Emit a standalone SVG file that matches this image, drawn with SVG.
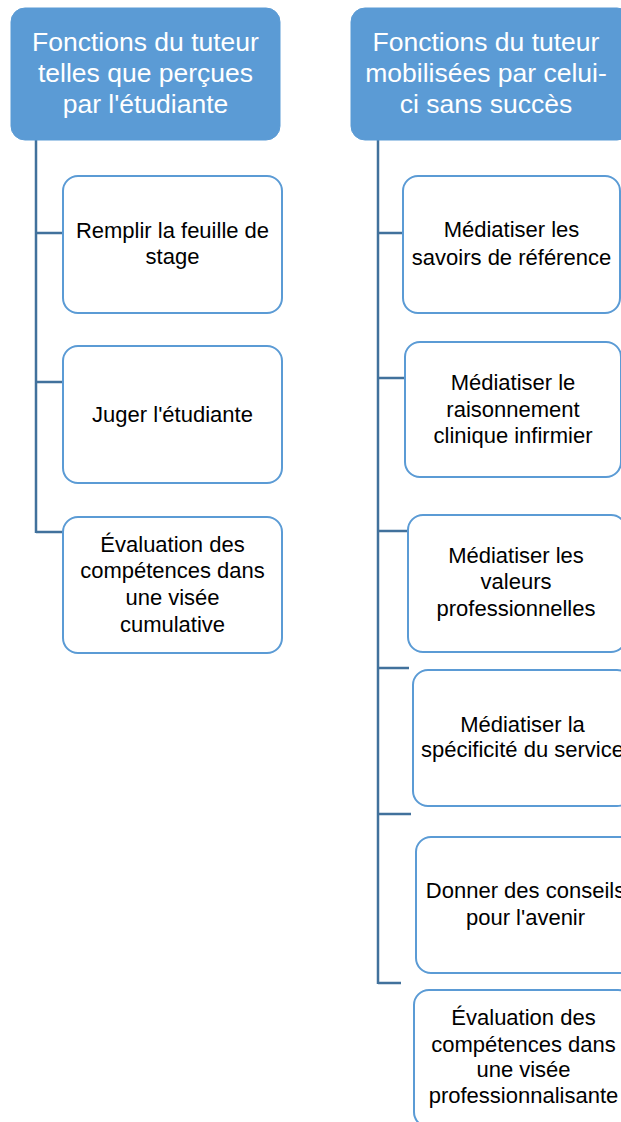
<svg xmlns="http://www.w3.org/2000/svg" width="621" height="1122" viewBox="0 0 621 1122">
<style>
.hdr{fill:#5b9bd5;stroke:#5b9bd5;stroke-width:1}
.hdrt{fill:#ffffff;font-family:"Liberation Sans",Arial,sans-serif;font-size:26.5px;text-anchor:middle}
.box{fill:#ffffff;stroke:#5b9bd5;stroke-width:2}
.bt{fill:#000000;font-family:"Liberation Sans",Arial,sans-serif;font-size:22px;text-anchor:middle}
.con{fill:none;stroke:#41719c;stroke-width:2.5}
</style>
<rect width="621" height="1122" fill="#ffffff"/>
<g id="connectors">
<path class="con" d="M36,140 V533 M36,233 H63 M36,382 H63 M36,532 H63"/>
<path class="con" d="M378,140 V984 M378,233 H403 M378,378 H405 M378,531 H407 M378,668 H409 M378,814 H411 M378,983 H401"/>
</g>
<g id="hdr-left">
<rect class="hdr" x="11" y="8" width="269" height="132" rx="14"/>
<text class="hdrt" x="145.5" y="51">Fonctions du tuteur</text>
<text class="hdrt" x="145.5" y="82">telles que perçues</text>
<text class="hdrt" x="145.5" y="113">par l'étudiante</text>
</g>
<g id="hdr-right">
<rect class="hdr" x="351" y="8" width="280" height="132" rx="14"/>
<text class="hdrt" x="486" y="51">Fonctions du tuteur</text>
<text class="hdrt" x="486" y="82">mobilisées par celui-</text>
<text class="hdrt" x="486" y="113">ci sans succès</text>
</g>
<g id="l1">
<rect class="box" x="63" y="176" width="219" height="137" rx="15"/>
<text class="bt" x="172.5" y="238">Remplir la feuille de</text>
<text class="bt" x="172.5" y="264">stage</text>
</g>
<g id="l2">
<rect class="box" x="63" y="346" width="219" height="137" rx="15"/>
<text class="bt" x="172.5" y="422">Juger l'étudiante</text>
</g>
<g id="l3">
<rect class="box" x="63" y="517" width="219" height="136" rx="15"/>
<text class="bt" x="172.5" y="552">Évaluation des</text>
<text class="bt" x="172.5" y="578">compétences dans</text>
<text class="bt" x="172.5" y="605">une visée</text>
<text class="bt" x="172.5" y="632">cumulative</text>
</g>
<g id="r1">
<rect class="box" x="403" y="176" width="217" height="137" rx="15"/>
<text class="bt" x="511.5" y="237">Médiatiser les</text>
<text class="bt" x="511.5" y="265">savoirs de référence</text>
</g>
<g id="r2">
<rect class="box" x="405" y="342" width="216" height="135" rx="15"/>
<text class="bt" x="513" y="390">Médiatiser le</text>
<text class="bt" x="513" y="417">raisonnement</text>
<text class="bt" x="513" y="443">clinique infirmier</text>
</g>
<g id="r3">
<rect class="box" x="408" y="515" width="218" height="137" rx="15"/>
<text class="bt" x="516" y="563">Médiatiser les</text>
<text class="bt" x="516" y="589">valeurs</text>
<text class="bt" x="516" y="616">professionnelles</text>
</g>
<g id="r4">
<rect class="box" x="413" y="670" width="219" height="136" rx="15"/>
<text class="bt" x="522.5" y="732">Médiatiser la</text>
<text class="bt" x="522.5" y="757">spécificité du service</text>
</g>
<g id="r5">
<rect class="box" x="416" y="837" width="219" height="136" rx="15"/>
<text class="bt" x="525.5" y="898">Donner des conseils</text>
<text class="bt" x="525.5" y="925">pour l'avenir</text>
</g>
<g id="r6">
<rect class="box" x="414" y="990" width="219" height="137" rx="15"/>
<text class="bt" x="523.5" y="1025">Évaluation des</text>
<text class="bt" x="523.5" y="1052">compétences dans</text>
<text class="bt" x="523.5" y="1077">une visée</text>
<text class="bt" x="523.5" y="1103">professionnalisante</text>
</g>
</svg>
